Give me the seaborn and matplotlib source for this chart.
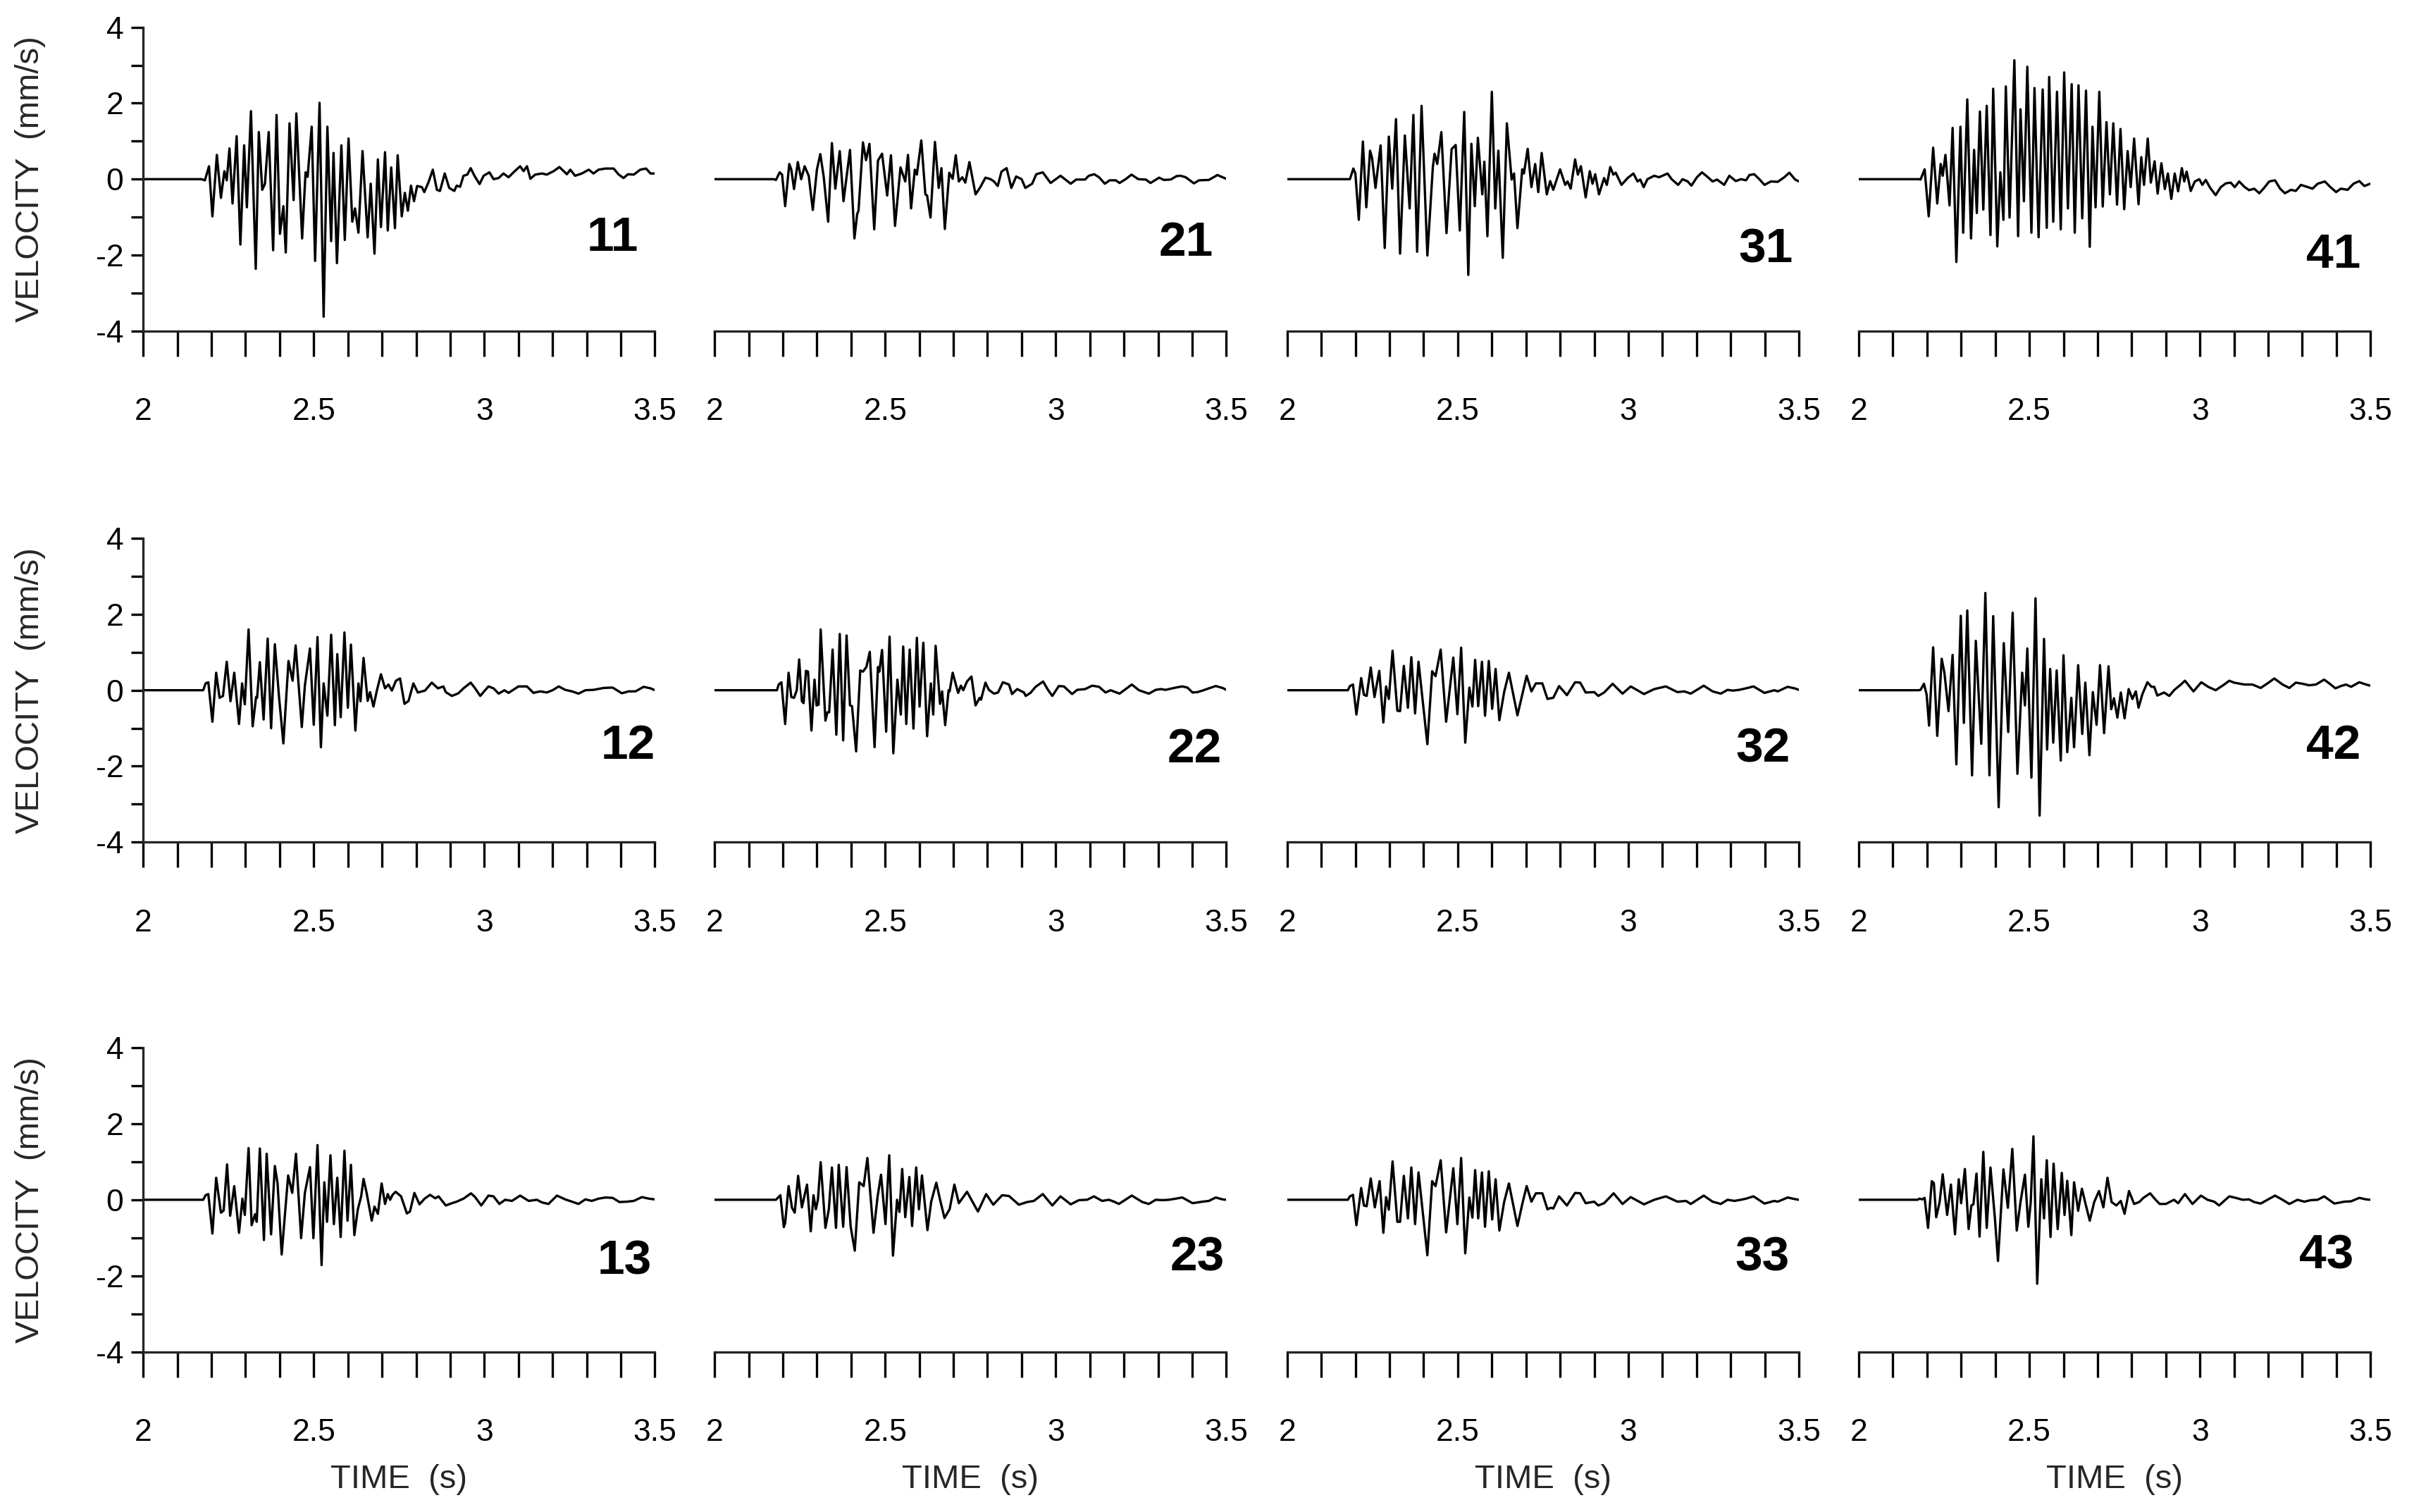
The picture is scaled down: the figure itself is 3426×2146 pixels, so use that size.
import numpy as np
import matplotlib
matplotlib.use("Agg")
import matplotlib.pyplot as plt
import seaborn as sns

# --- Digitised velocity traces (time in s, velocity in mm/s) ---
# station labels: first digit = column, second digit = row
t11 = [2.0, 2.171, 2.181, 2.193, 2.203, 2.216, 2.228, 2.238, 2.245, 2.253, 2.262, 2.274, 2.285, 2.296, 2.304, 2.316,
       2.330, 2.339, 2.349, 2.357, 2.368, 2.381, 2.391, 2.401, 2.411, 2.418, 2.429, 2.441, 2.449, 2.466, 2.476, 2.482,
       2.494, 2.504, 2.517, 2.529, 2.540, 2.551, 2.558, 2.568, 2.581, 2.591, 2.602, 2.613, 2.621, 2.631, 2.643, 2.658,
       2.667, 2.678, 2.688, 2.697, 2.709, 2.717, 2.727, 2.738, 2.746, 2.758, 2.767, 2.776, 2.785, 2.794, 2.803, 2.817,
       2.824, 2.836, 2.849, 2.861, 2.870, 2.884, 2.897, 2.912, 2.919, 2.929, 2.939, 2.950, 2.960, 2.971, 2.986, 2.998,
       3.015, 3.027, 3.042, 3.056, 3.071, 3.089, 3.105, 3.115, 3.125, 3.135, 3.149, 3.169, 3.183, 3.203, 3.220, 3.242,
       3.252, 3.266, 3.286, 3.306, 3.320, 3.335, 3.355, 3.379, 3.394, 3.408, 3.421, 3.438, 3.457, 3.474, 3.487, 3.500]
v11 = [0, 0, -0.03, 0.34, -0.98, 0.64, -0.49, 0.21, -0.03, 0.81, -0.64, 1.13, -1.72, 0.89, -0.74, 1.79,
       -2.36, 1.24, -0.28, -0.12, 1.24, -1.87, 1.69, -1.44, -0.71, -1.93, 1.47, -0.55, 1.73, -1.56, 0.18, 0.06,
       1.38, -2.15, 2.01, -3.62, 1.38, -1.63, 0.69, -2.21, 0.89, -1.60, 1.07, -1.12, -0.77, -1.41, 0.74, -1.53,
       -0.12, -1.96, 0.52, -1.26, 0.71, -1.35, 0.31, -1.29, 0.63, -0.98, -0.36, -0.83, -0.17, -0.58, -0.18, -0.21,
       -0.34, -0.09, 0.25, -0.28, -0.31, 0.15, -0.23, -0.31, -0.17, -0.20, 0.09, 0.12, 0.29, 0.09, -0.13, 0.09,
       0.18, 0.0, 0.03, 0.15, 0.05, 0.21, 0.34, 0.21, 0.34, 0.01, 0.12, 0.15, 0.12, 0.21, 0.32, 0.13,
       0.25, 0.09, 0.15, 0.25, 0.15, 0.25, 0.28, 0.28, 0.12, 0.03, 0.13, 0.12, 0.25, 0.28, 0.15, 0.15]

t21 = [2.0, 2.173, 2.180, 2.191, 2.198, 2.207, 2.219, 2.225, 2.233, 2.244, 2.254, 2.264, 2.276, 2.288, 2.300, 2.310,
       2.320, 2.333, 2.344, 2.354, 2.367, 2.378, 2.397, 2.410, 2.418, 2.422, 2.435, 2.444, 2.454, 2.468, 2.479, 2.491,
       2.506, 2.517, 2.529, 2.545, 2.559, 2.567, 2.576, 2.587, 2.593, 2.606, 2.618, 2.623, 2.633, 2.646, 2.657, 2.665,
       2.675, 2.688, 2.698, 2.707, 2.716, 2.726, 2.735, 2.747, 2.765, 2.779, 2.794, 2.809, 2.819, 2.830, 2.841, 2.856,
       2.870, 2.884, 2.900, 2.911, 2.931, 2.943, 2.962, 2.985, 3.014, 3.044, 3.060, 3.086, 3.097, 3.113, 3.127, 3.144,
       3.158, 3.176, 3.187, 3.205, 3.222, 3.242, 3.264, 3.278, 3.303, 3.317, 3.337, 3.354, 3.366, 3.381, 3.405, 3.420,
       3.449, 3.474, 3.489, 3.500]
v21 = [0, 0, -0.02, 0.18, 0.12, -0.71, 0.40, 0.25, -0.26, 0.45, 0.0, 0.34, 0.09, -0.81, 0.25, 0.66,
       0.06, -1.12, 0.95, -0.25, 0.74, -0.58, 0.77, -1.56, -0.92, -0.83, 0.97, 0.50, 0.93, -1.32, 0.49, 0.67,
       -0.43, 0.63, -1.23, 0.31, -0.06, 0.64, -0.77, 0.25, 0.12, 1.02, -0.40, -0.43, -1.01, 0.98, -0.23, 0.29,
       -1.31, 0.17, 0.01, 0.63, -0.06, 0.05, -0.09, 0.45, -0.40, -0.21, 0.04, 0.0, -0.06, -0.18, 0.20, 0.29,
       -0.23, 0.07, 0.0, -0.23, -0.12, 0.13, 0.18, -0.10, 0.09, -0.12, -0.01, -0.01, 0.09, 0.13, 0.05, -0.12,
       -0.03, -0.03, -0.10, 0.0, 0.12, 0.0, -0.01, -0.10, 0.04, -0.02, -0.01, 0.08, 0.09, 0.05, -0.11, -0.03,
       -0.02, 0.11, 0.05, 0.01]

t31 = [2.0, 2.178, 2.184, 2.194, 2.200, 2.210, 2.222, 2.232, 2.243, 2.249, 2.259, 2.274, 2.286, 2.298, 2.308, 2.319,
       2.331, 2.345, 2.359, 2.370, 2.381, 2.394, 2.411, 2.427, 2.432, 2.440, 2.452, 2.467, 2.482, 2.494, 2.506, 2.519,
       2.531, 2.540, 2.550, 2.559, 2.572, 2.578, 2.587, 2.600, 2.610, 2.619, 2.632, 2.644, 2.658, 2.665, 2.675, 2.689,
       2.694, 2.705, 2.716, 2.727, 2.736, 2.746, 2.761, 2.771, 2.780, 2.800, 2.815, 2.822, 2.831, 2.844, 2.852, 2.861,
       2.875, 2.887, 2.895, 2.903, 2.914, 2.929, 2.937, 2.947, 2.956, 2.963, 2.980, 2.998, 3.015, 3.027, 3.035, 3.045,
       3.056, 3.076, 3.090, 3.115, 3.127, 3.146, 3.159, 3.174, 3.185, 3.201, 3.216, 3.232, 3.247, 3.260, 3.281, 3.296,
       3.315, 3.330, 3.345, 3.355, 3.369, 3.384, 3.399, 3.418, 3.438, 3.457, 3.472, 3.489, 3.500]
v31 = [0, 0, 0, 0.28, 0.15, -1.07, 0.99, -0.74, 0.75, 0.55, -0.23, 0.89, -1.81, 1.12, -0.25, 1.58,
       -1.96, 1.15, -0.77, 1.69, -1.91, 1.93, -2.01, 0.31, 0.67, 0.40, 1.24, -1.42, 0.79, 0.90, -1.35, 1.77,
       -2.52, 0.93, -0.71, 1.09, -0.40, 0.46, -1.50, 2.30, -0.77, 0.75, -2.07, 1.47, -0.01, 0.15, -1.29, 0.26,
       0.15, 0.80, -0.21, 0.40, -0.34, 0.69, -0.40, -0.05, -0.28, 0.26, -0.15, -0.06, -0.25, 0.52, 0.12, 0.34,
       -0.48, 0.21, -0.12, 0.13, -0.40, 0.03, -0.15, 0.32, 0.12, 0.17, -0.15, 0.03, 0.15, -0.06, -0.01, -0.21,
       0.0, 0.09, 0.05, 0.15, 0.0, -0.15, 0.0, -0.06, -0.17, 0.05, 0.18, 0.06, -0.06, -0.01, -0.15, 0.09,
       -0.05, 0.0, -0.03, 0.11, 0.13, 0.0, -0.15, -0.06, -0.07, 0.05, 0.17, -0.01, -0.06]

t41 = [2.0, 2.176, 2.181, 2.193, 2.205, 2.218, 2.230, 2.240, 2.246, 2.254, 2.266, 2.275, 2.286, 2.298, 2.306, 2.318,
       2.329, 2.338, 2.346, 2.355, 2.365, 2.375, 2.386, 2.394, 2.406, 2.415, 2.424, 2.431, 2.442, 2.456, 2.467, 2.474,
       2.484, 2.494, 2.506, 2.515, 2.527, 2.539, 2.551, 2.558, 2.570, 2.581, 2.592, 2.602, 2.613, 2.624, 2.633, 2.644,
       2.655, 2.666, 2.677, 2.685, 2.694, 2.705, 2.715, 2.726, 2.736, 2.746, 2.757, 2.767, 2.778, 2.788, 2.797, 2.807,
       2.820, 2.828, 2.836, 2.847, 2.856, 2.867, 2.876, 2.887, 2.897, 2.906, 2.916, 2.926, 2.936, 2.947, 2.954, 2.961,
       2.973, 2.985, 2.998, 3.007, 3.017, 3.030, 3.046, 3.061, 3.076, 3.090, 3.102, 3.115, 3.130, 3.144, 3.159, 3.174,
       3.188, 3.203, 3.220, 3.235, 3.249, 3.267, 3.281, 3.296, 3.313, 3.330, 3.345, 3.366, 3.379, 3.399, 3.413, 3.433,
       3.450, 3.467, 3.482, 3.499]
v41 = [0, 0, -0.01, 0.26, -0.98, 0.83, -0.64, 0.40, 0.09, 0.64, -0.69, 1.35, -2.18, 1.38, -1.41, 2.10,
       -1.56, 0.77, -0.89, 1.78, -0.80, 1.93, -1.47, 2.38, -1.77, 0.18, -1.07, 2.44, -1.01, 3.13, -1.50, 1.84,
       -0.58, 2.96, -1.41, 2.40, -1.53, 2.36, -1.28, 2.69, -1.12, 2.30, -1.32, 2.81, -0.77, 2.50, -1.41, 2.47,
       -1.03, 2.33, -1.78, 1.38, -0.74, 2.30, -0.72, 1.50, -0.40, 1.47, -0.67, 1.32, -0.79, 0.74, -0.21, 1.07,
       -0.66, 0.58, -0.15, 1.07, -0.09, 0.47, -0.38, 0.42, -0.26, 0.15, -0.52, 0.15, -0.32, 0.29, -0.06, 0.20,
       -0.31, -0.06, 0.0, -0.15, -0.02, -0.23, -0.42, -0.21, -0.11, -0.09, -0.21, -0.06, -0.20, -0.29, -0.25, -0.37,
       -0.23, -0.06, -0.03, -0.25, -0.37, -0.28, -0.31, -0.15, -0.20, -0.25, -0.12, -0.06, -0.18, -0.34, -0.25, -0.28,
       -0.12, -0.05, -0.18, -0.12]

t12 = [2.0, 2.176, 2.183, 2.191, 2.203, 2.214, 2.224, 2.234, 2.245, 2.256, 2.267, 2.281, 2.290, 2.298, 2.309, 2.321,
       2.331, 2.334, 2.342, 2.353, 2.365, 2.375, 2.386, 2.398, 2.411, 2.426, 2.438, 2.447, 2.465, 2.474, 2.489, 2.500,
       2.511, 2.521, 2.529, 2.540, 2.551, 2.562, 2.569, 2.579, 2.590, 2.600, 2.609, 2.622, 2.631, 2.637, 2.646, 2.658,
       2.665, 2.675, 2.685, 2.697, 2.709, 2.719, 2.729, 2.741, 2.753, 2.766, 2.778, 2.792, 2.805, 2.826, 2.846, 2.864,
       2.880, 2.887, 2.905, 2.924, 2.939, 2.960, 2.973, 2.988, 3.012, 3.027, 3.042, 3.059, 3.071, 3.083, 3.100, 3.125,
       3.144, 3.164, 3.183, 3.200, 3.218, 3.237, 3.257, 3.276, 3.296, 3.320, 3.350, 3.376, 3.403, 3.423, 3.443, 3.467,
       3.487, 3.500]
v12 = [0, 0, 0.18, 0.21, -0.83, 0.46, -0.20, -0.15, 0.75, -0.29, 0.46, -0.89, 0.18, -0.37, 1.60, -0.95,
       -0.18, -0.20, 0.74, -0.77, 1.36, -1.00, 1.21, -0.15, -1.40, 0.77, 0.25, 1.18, -0.97, 0.12, 1.10, -0.91,
       1.40, -1.50, 0.18, -0.67, 1.46, -0.92, 0.95, -0.71, 1.52, -0.46, 1.20, -1.06, 0.18, -0.29, 0.85, -0.28,
       -0.05, -0.43, -0.01, 0.42, 0.05, 0.15, -0.01, 0.25, 0.31, -0.36, -0.28, 0.18, -0.06, -0.01, 0.20, 0.05,
       0.10, -0.05, -0.15, -0.08, 0.05, 0.20, 0.05, -0.15, 0.10, 0.05, -0.09, 0.0, -0.07, 0.0, 0.10, 0.10,
       -0.07, -0.03, -0.06, 0.0, 0.10, 0.01, -0.03, -0.09, 0.0, 0.01, 0.06, 0.07, -0.08, -0.03, -0.03, 0.09,
       0.05, 0.0]

t22 = [2.0, 2.183, 2.188, 2.196, 2.207, 2.217, 2.225, 2.233, 2.241, 2.248, 2.256, 2.261, 2.268, 2.274, 2.284, 2.293,
       2.299, 2.305, 2.311, 2.325, 2.331, 2.336, 2.346, 2.357, 2.367, 2.377, 2.387, 2.397, 2.403, 2.415, 2.427, 2.435,
       2.445, 2.455, 2.469, 2.479, 2.483, 2.491, 2.503, 2.513, 2.524, 2.536, 2.546, 2.553, 2.562, 2.572, 2.583, 2.593,
       2.601, 2.612, 2.623, 2.634, 2.641, 2.648, 2.661, 2.667, 2.676, 2.686, 2.689, 2.698, 2.714, 2.722, 2.729, 2.740,
       2.753, 2.765, 2.777, 2.781, 2.794, 2.804, 2.819, 2.831, 2.845, 2.863, 2.872, 2.887, 2.907, 2.912, 2.926, 2.941,
       2.963, 2.978, 2.990, 3.009, 3.024, 3.048, 3.063, 3.086, 3.107, 3.127, 3.146, 3.161, 3.187, 3.205, 3.223, 3.244,
       3.273, 3.293, 3.308, 3.322, 3.352, 3.371, 3.386, 3.401, 3.415, 3.430, 3.449, 3.469, 3.489, 3.500]
v22 = [0, 0, 0.15, 0.21, -0.89, 0.46, -0.18, -0.20, 0.0, 0.81, -0.29, -0.34, 0.51, 0.49, -1.06, 0.28,
       -0.40, -0.38, 1.60, -0.80, -0.58, -0.58, 1.07, -1.17, 1.48, -1.32, 1.44, -0.40, -0.42, -1.61, 0.52, 0.49,
       0.61, 1.01, -1.50, 0.61, 0.49, 1.06, -1.09, 1.41, -1.66, 0.28, -0.64, 1.15, -0.89, 1.07, -1.01, 1.38,
       -0.43, 1.25, -1.21, 0.18, -0.64, 1.17, -0.36, -0.03, -0.92, 0.0, -0.03, 0.46, -0.07, 0.12, 0.0, 0.23,
       0.36, -0.40, -0.20, -0.25, 0.20, 0.01, -0.09, -0.06, 0.21, 0.15, -0.10, 0.03, -0.06, -0.15, -0.07, 0.09,
       0.23, 0.0, -0.15, 0.11, 0.10, -0.10, 0.01, 0.03, 0.12, 0.09, -0.06, 0.0, -0.09, 0.03, 0.15, 0.0,
       -0.09, 0.01, 0.03, 0.01, 0.07, 0.10, 0.07, -0.06, -0.05, -0.01, 0.05, 0.11, 0.06, 0.01]

t32 = [2.0, 2.178, 2.184, 2.193, 2.203, 2.217, 2.225, 2.233, 2.245, 2.256, 2.270, 2.282, 2.290, 2.298, 2.309, 2.323,
       2.331, 2.342, 2.354, 2.364, 2.375, 2.385, 2.411, 2.425, 2.435, 2.450, 2.466, 2.487, 2.499, 2.510, 2.522, 2.534,
       2.543, 2.551, 2.560, 2.571, 2.580, 2.591, 2.601, 2.611, 2.622, 2.636, 2.650, 2.675, 2.689, 2.702, 2.716, 2.729,
       2.748, 2.763, 2.773, 2.780, 2.797, 2.820, 2.844, 2.859, 2.875, 2.900, 2.912, 2.929, 2.954, 2.983, 3.007, 3.046,
       3.076, 3.110, 3.144, 3.164, 3.183, 3.221, 3.247, 3.271, 3.291, 3.306, 3.325, 3.345, 3.367, 3.399, 3.428, 3.438,
       3.467, 3.487, 3.500]
v32 = [0, 0, 0.11, 0.15, -0.64, 0.32, -0.12, -0.15, 0.60, -0.18, 0.51, -0.85, 0.10, -0.23, 1.04, -0.54,
       -0.55, 0.64, -0.46, 0.87, -0.61, 0.75, -1.42, 0.50, 0.37, 1.07, -0.83, 0.86, -0.63, 1.12, -1.38, 0.07,
       -0.43, 0.80, -0.42, 0.75, -0.67, 0.77, -0.49, 0.56, -0.79, -0.05, 0.46, -0.66, -0.12, 0.38, -0.03, 0.18,
       0.18, -0.23, -0.21, -0.20, 0.11, -0.13, 0.21, 0.20, -0.06, -0.05, -0.15, -0.06, 0.17, -0.09, 0.10, -0.10,
       0.03, 0.10, -0.05, -0.03, -0.09, 0.12, -0.03, -0.09, 0.01, -0.01, 0.01, 0.05, 0.10, -0.07, 0.0, -0.03,
       0.09, 0.05, 0.01]

t42 = [2.0, 2.176, 2.181, 2.191, 2.199, 2.206, 2.218, 2.230, 2.243, 2.251, 2.263, 2.275, 2.286, 2.299, 2.308, 2.318,
       2.332, 2.343, 2.359, 2.371, 2.383, 2.394, 2.410, 2.425, 2.438, 2.451, 2.465, 2.479, 2.487, 2.494, 2.506, 2.518,
       2.530, 2.543, 2.552, 2.561, 2.570, 2.580, 2.592, 2.600, 2.611, 2.623, 2.631, 2.643, 2.655, 2.664, 2.676, 2.686,
       2.697, 2.707, 2.719, 2.732, 2.740, 2.748, 2.758, 2.768, 2.779, 2.791, 2.802, 2.812, 2.820, 2.831, 2.846, 2.858,
       2.866, 2.875, 2.895, 2.910, 2.924, 2.944, 2.956, 2.981, 3.004, 3.024, 3.046, 3.071, 3.086, 3.100, 3.130, 3.154,
       3.178, 3.198, 3.218, 3.242, 3.262, 3.281, 3.301, 3.320, 3.340, 3.364, 3.379, 3.397, 3.413, 3.428, 3.443, 3.467,
       3.487, 3.499]
v42 = [0, 0, 0.01, 0.17, -0.12, -0.93, 1.13, -1.20, 0.83, 0.46, -0.55, 0.93, -1.95, 1.96, -0.86, 2.10,
       -2.24, 1.30, -1.41, 2.56, -2.24, 1.95, -3.08, 1.24, -1.10, 2.04, -2.20, 0.46, -0.40, 1.10, -2.30, 2.42,
       -3.30, 1.35, -1.56, 0.56, -1.38, 0.52, -1.85, 0.92, -1.63, -0.20, -1.50, 0.66, -1.15, 0.20, -1.71, -0.05,
       -0.91, 0.66, -1.13, 0.63, -0.50, -0.21, -0.72, -0.06, -0.74, 0.03, -0.23, -0.03, -0.46, -0.11, 0.21, 0.09,
       0.09, -0.14, -0.06, -0.15, 0.0, 0.15, 0.25, -0.03, 0.21, 0.09, 0.0, 0.15, 0.25, 0.20, 0.15, 0.15,
       0.06, 0.18, 0.31, 0.15, 0.06, 0.20, 0.17, 0.13, 0.15, 0.28, 0.18, 0.05, 0.11, 0.15, 0.09, 0.21,
       0.15, 0.12]

t13 = [2.0, 2.176, 2.183, 2.191, 2.203, 2.214, 2.228, 2.236, 2.246, 2.255, 2.267, 2.281, 2.291, 2.298, 2.309, 2.318,
       2.328, 2.333, 2.342, 2.354, 2.362, 2.375, 2.386, 2.394, 2.406, 2.425, 2.437, 2.448, 2.463, 2.474, 2.489, 2.499,
       2.511, 2.523, 2.531, 2.539, 2.549, 2.559, 2.569, 2.579, 2.590, 2.599, 2.609, 2.619, 2.629, 2.639, 2.646, 2.655,
       2.670, 2.678, 2.688, 2.699, 2.709, 2.717, 2.724, 2.731, 2.740, 2.756, 2.773, 2.782, 2.795, 2.810, 2.825, 2.841,
       2.856, 2.866, 2.887, 2.905, 2.919, 2.939, 2.961, 2.973, 2.991, 3.012, 3.027, 3.044, 3.061, 3.081, 3.105, 3.130,
       3.154, 3.169, 3.188, 3.213, 3.237, 3.257, 3.276, 3.296, 3.315, 3.335, 3.355, 3.376, 3.396, 3.418, 3.438, 3.462,
       3.482, 3.500]
v13 = [0, 0, 0.12, 0.15, -0.89, 0.58, -0.34, -0.28, 0.93, -0.42, 0.36, -0.87, 0.03, -0.40, 1.36, -0.67,
       -0.38, -0.58, 1.35, -1.06, 1.21, -0.91, 0.89, 0.43, -1.44, 0.64, 0.18, 1.21, -1.01, 0.18, 0.86, -1.01,
       1.44, -1.72, 0.46, -0.58, 1.17, -0.64, 0.58, -0.98, 1.29, -0.55, 0.92, -0.93, -0.26, 0.09, 0.55, 0.18,
       -0.55, -0.18, -0.37, 0.43, -0.11, 0.15, 0.0, 0.13, 0.21, 0.09, -0.36, -0.31, 0.18, -0.12, 0.03, 0.13,
       0.04, 0.09, -0.15, -0.09, -0.05, 0.03, 0.17, 0.07, -0.15, 0.11, 0.09, -0.11, 0.0, -0.03, 0.11, -0.03,
       0.0, -0.07, -0.11, 0.11, 0.01, -0.05, -0.11, 0.01, -0.03, 0.03, 0.06, 0.05, -0.06, -0.05, -0.03, 0.07,
       0.03, 0.01]

t23 = [2.0, 2.173, 2.180, 2.193, 2.203, 2.207, 2.217, 2.227, 2.235, 2.245, 2.256, 2.271, 2.282, 2.290, 2.297, 2.303,
       2.311, 2.325, 2.335, 2.344, 2.356, 2.364, 2.377, 2.387, 2.399, 2.411, 2.424, 2.437, 2.448, 2.466, 2.478, 2.488,
       2.501, 2.512, 2.523, 2.535, 2.542, 2.550, 2.559, 2.571, 2.579, 2.591, 2.599, 2.608, 2.624, 2.635, 2.650, 2.661,
       2.674, 2.689, 2.703, 2.716, 2.740, 2.772, 2.796, 2.817, 2.843, 2.863, 2.892, 2.916, 2.936, 2.962, 2.990, 3.014,
       3.044, 3.068, 3.092, 3.112, 3.136, 3.156, 3.171, 3.185, 3.223, 3.254, 3.273, 3.293, 3.313, 3.332, 3.352, 3.371,
       3.401, 3.430, 3.449, 3.469, 3.489, 3.500]
v23 = [0, 0, 0.0, 0.12, -0.72, -0.61, 0.36, -0.21, -0.34, 0.63, -0.20, 0.40, -0.83, 0.12, -0.25, 0.0,
       0.99, -0.74, -0.25, 0.85, -0.74, 0.92, -0.71, 0.86, -0.71, -1.34, 0.46, 0.36, 1.10, -0.87, 0.09, 0.66,
       -0.64, 1.17, -1.47, 0.0, -0.32, 0.81, -0.46, 0.60, -0.69, 0.85, -0.25, 0.64, -0.80, -0.05, 0.45, 0.0,
       -0.48, -0.25, 0.40, -0.09, 0.21, -0.31, 0.15, -0.13, 0.12, 0.10, -0.13, -0.06, -0.03, 0.15, -0.15, 0.09,
       -0.12, -0.01, 0.0, 0.09, -0.03, 0.0, -0.05, -0.11, 0.11, -0.06, -0.11, 0.0, -0.01, 0.0, 0.03, 0.06,
       -0.09, -0.05, -0.03, 0.06, 0.01, 0.0]

t33 = [2.0, 2.178, 2.184, 2.193, 2.203, 2.217, 2.225, 2.233, 2.245, 2.257, 2.271, 2.282, 2.290, 2.298, 2.309, 2.323,
       2.331, 2.342, 2.354, 2.364, 2.375, 2.385, 2.411, 2.425, 2.435, 2.450, 2.466, 2.487, 2.499, 2.510, 2.522, 2.534,
       2.543, 2.551, 2.560, 2.571, 2.580, 2.591, 2.601, 2.611, 2.622, 2.636, 2.650, 2.675, 2.689, 2.702, 2.716, 2.729,
       2.748, 2.763, 2.773, 2.780, 2.797, 2.820, 2.844, 2.859, 2.875, 2.900, 2.912, 2.929, 2.957, 2.983, 3.007, 3.046,
       3.076, 3.110, 3.144, 3.169, 3.183, 3.221, 3.247, 3.271, 3.291, 3.311, 3.330, 3.345, 3.367, 3.399, 3.428, 3.438,
       3.467, 3.487, 3.500]
v33 = [0, 0, 0.09, 0.13, -0.67, 0.31, -0.15, -0.17, 0.56, -0.20, 0.49, -0.87, 0.07, -0.26, 1.01, -0.58,
       -0.58, 0.63, -0.49, 0.85, -0.64, 0.72, -1.46, 0.49, 0.36, 1.04, -0.86, 0.83, -0.64, 1.10, -1.41, 0.06,
       -0.47, 0.78, -0.49, 0.72, -0.71, 0.75, -0.52, 0.54, -0.81, -0.06, 0.43, -0.69, -0.12, 0.36, -0.05, 0.17,
       0.17, -0.25, -0.21, -0.23, 0.09, -0.15, 0.18, 0.17, -0.09, -0.05, -0.15, -0.09, 0.17, -0.11, 0.07, -0.12,
       0.0, 0.09, -0.05, -0.03, -0.11, 0.11, -0.05, -0.11, 0.0, -0.03, 0.0, 0.03, 0.09, -0.10, -0.03, -0.05,
       0.06, 0.02, 0.0]

t43 = [2.0, 2.172, 2.178, 2.186, 2.193, 2.203, 2.214, 2.220, 2.227, 2.237, 2.246, 2.259, 2.270, 2.282, 2.293, 2.300,
       2.311, 2.322, 2.330, 2.336, 2.345, 2.354, 2.365, 2.375, 2.386, 2.399, 2.408, 2.424, 2.437, 2.450, 2.463, 2.474,
       2.487, 2.497, 2.504, 2.512, 2.523, 2.535, 2.543, 2.551, 2.562, 2.571, 2.583, 2.595, 2.603, 2.611, 2.623, 2.631,
       2.643, 2.654, 2.665, 2.677, 2.690, 2.704, 2.717, 2.729, 2.741, 2.755, 2.768, 2.779, 2.792, 2.807, 2.822, 2.834,
       2.854, 2.870, 2.882, 2.900, 2.924, 2.936, 2.956, 2.978, 3.003, 3.022, 3.042, 3.056, 3.071, 3.086, 3.105, 3.125,
       3.144, 3.159, 3.178, 3.220, 3.242, 3.262, 3.286, 3.306, 3.325, 3.345, 3.364, 3.394, 3.423, 3.443, 3.467, 3.487,
       3.500]
v43 = [0, 0, 0.03, 0.01, 0.05, -0.74, 0.49, 0.44, -0.46, -0.06, 0.67, -0.40, 0.40, -0.91, 0.54, -0.09,
       0.81, -0.77, -0.15, -0.12, 0.69, -0.97, 1.26, -0.74, 0.85, -0.49, -1.61, 0.80, -0.21, 1.34, -0.81, -0.06,
       0.66, -0.71, -0.06, 1.67, -2.21, 0.54, -0.49, 1.04, -0.98, 0.95, -0.77, 0.71, -0.40, 0.50, -0.93, 0.46,
       -0.29, 0.29, -0.12, -0.55, -0.06, 0.23, -0.20, 0.58, -0.06, -0.15, -0.03, -0.37, 0.23, -0.11, -0.06, 0.05,
       0.17, 0.0, -0.11, -0.11, 0.0, -0.09, 0.15, -0.11, 0.11, 0.0, -0.05, -0.15, -0.03, 0.09, 0.05, 0.0,
       0.01, -0.06, -0.10, 0.11, 0.0, -0.11, 0.0, -0.05, -0.01, 0.0, 0.09, -0.10, -0.05, -0.04, 0.05, 0.01,
       0.0]

# grid order: rows (1..3) x columns (1..4)
stations = [["11", "21", "31", "41"],
            ["12", "22", "32", "42"],
            ["13", "23", "33", "43"]]
traces = {
    "11": (t11, v11), "21": (t21, v21), "31": (t31, v31), "41": (t41, v41),
    "12": (t12, v12), "22": (t22, v22), "32": (t32, v32), "42": (t42, v42),
    "13": (t13, v13), "23": (t23, v23), "33": (t33, v33), "43": (t43, v43),
}

x_ticks = np.round(np.arange(2.0, 3.501, 0.1), 1)
x_ticklabels = ["2", "", "", "", "", "2.5", "", "", "", "", "3", "", "", "", "", "3.5"]
y_ticks = [-4, -3, -2, -1, 0, 1, 2, 3, 4]
y_ticklabels = ["-4", "", "-2", "", "0", "", "2", "", "4"]

# --- layout (figure fractions) ---
col_left = [0.0593, 0.2960, 0.5332, 0.7700]
row_bottom = [0.7810, 0.4430, 0.1060]
ax_w, ax_h = 0.2120, 0.2010
# panel-number anchor (time, velocity)
label_pos = {
    "11": (3.452, -1.55), "21": (3.462, -1.68), "31": (3.482, -1.85), "41": (3.470, -2.00),
    "12": (3.500, -1.47), "22": (3.487, -1.56), "32": (3.474, -1.56), "42": (3.470, -1.47),
    "13": (3.490, -1.62), "23": (3.494, -1.53), "33": (3.472, -1.53), "43": (3.450, -1.47),
}

sns.set_style("ticks")
plt.rcParams["font.family"] = ["Liberation Sans", "DejaVu Sans"]
plt.rcParams["axes.unicode_minus"] = False
plt.rcParams["axes.linewidth"] = 1.2

fig = plt.figure(figsize=(17.13, 10.73), dpi=200)

for r in range(3):
    for c in range(4):
        name = stations[r][c]
        t, v = traces[name]
        ax = fig.add_axes([col_left[c], row_bottom[r], ax_w, ax_h])
        sns.lineplot(x=t, y=v, ax=ax, color="black", linewidth=1.2,
                     sort=False, estimator=None)
        ax.set_xlim(2.0, 3.5)
        ax.set_ylim(-4, 4)
        ax.set_facecolor("white")

        ax.spines["top"].set_visible(False)
        ax.spines["right"].set_visible(False)
        ax.set_xticks(x_ticks)
        ax.set_xticklabels(x_ticklabels)
        ax.tick_params(axis="x", direction="out", length=13, width=1.2,
                       pad=21, labelsize=16, colors="black")

        if c == 0:
            ax.set_yticks(y_ticks)
            ax.set_yticklabels(y_ticklabels)
            ax.tick_params(axis="y", direction="out", length=6, width=1.2,
                           pad=4, labelsize=16, colors="black")
            ax.set_ylabel("VELOCITY  (mm/s)", fontsize=17)
            ax.yaxis.set_label_coords(-0.19, 0.5)
        else:
            ax.spines["left"].set_visible(False)
            ax.set_yticks([])
            ax.set_ylabel("")

        if r == 2:
            ax.set_xlabel("TIME  (s)", fontsize=17)
            ax.xaxis.set_label_coords(0.5, -0.37)
        else:
            ax.set_xlabel("")

        lx, ly = label_pos[name]
        ax.text(lx, ly, name, ha="right", va="center", fontsize=25,
                fontweight="bold", color="black")

fig.savefig("out.png", dpi=200, facecolor="white")
